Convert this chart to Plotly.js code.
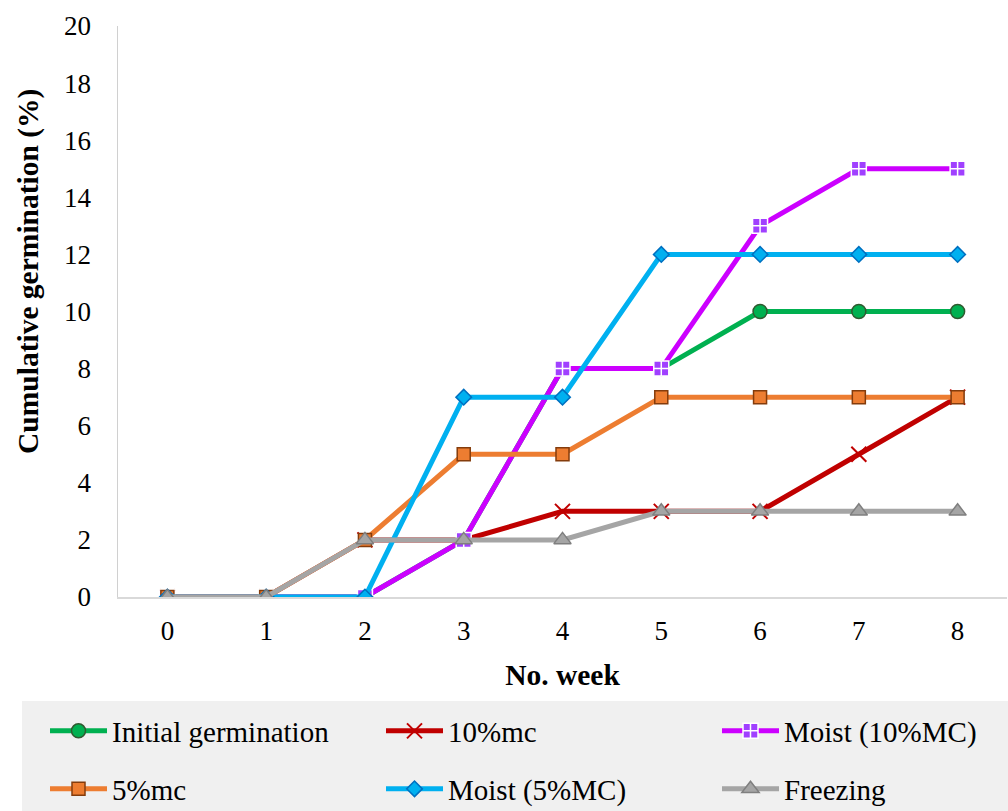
<!DOCTYPE html>
<html>
<head>
<meta charset="utf-8">
<script src="https://cdn.plot.ly/plotly-3.0.1.min.js"></script>
<style>html,body{margin:0;padding:0;background:#fff;}#chart{width:1008px;height:811px;}</style>
</head>
<body>
<div id="chart"></div>
<script>
// Data
const weeks = [0, 1, 2, 3, 4, 5, 6, 7, 8];
const initialGermination = [0, 0, 0, 2, 8, 8, 10, 10, 10];
const mc10 = [0, 0, 2, 2, 3, 3, 3, 5, 7];
const moist10 = [0, 0, 0, 2, 8, 8, 13, 15, 15];
const mc5 = [0, 0, 2, 5, 5, 7, 7, 7, 7];
const moist5 = [0, 0, 0, 7, 7, 12, 12, 12, 12];
const freezing = [0, 0, 2, 2, 2, 3, 3, 3, 3];
const yTicks = [0, 2, 4, 6, 8, 10, 12, 14, 16, 18, 20];
const xTitle = 'No. week';
const yTitle = 'Cumulative germination (%)';

const serif = '"Liberation Serif", "Times New Roman", serif';

function tr(name, y, lineColor, symbol, fill, border, size, legend, bw) {
  return {
    type: 'scatter', mode: 'lines+markers', name: name, x: weeks, y: y,
    legend: legend,
    line: {color: lineColor, width: 5},
    marker: {symbol: symbol, size: size, color: fill, line: {color: border, width: bw}}
  };
}

const data = [
  tr('Initial germination', initialGermination, '#00B050', 'circle', '#00B050', '#2F5A2F', 14, 'legend', 1.5),
  tr('10%mc', mc10, '#C00000', 'x-thin-open', '#C00000', '#C00000', 15, 'legend2', 2),
  tr('Moist (10%MC)', moist10, '#CC00FF', 'square-cross', '#A040FF', '#FFFFFF', 15, 'legend3', 1.5),
  tr('5%mc', mc5, '#ED7D31', 'square', '#ED7D31', '#843C0C', 13, 'legend4', 1.5),
  tr('Moist (5%MC)', moist5, '#00B0F0', 'diamond', '#00B0F0', '#0070C0', 12, 'legend5', 1.5),
  tr('Freezing', freezing, '#A5A5A5', 'triangle-up', '#A5A5A5', '#7F7F7F', 15, 'legend6', 1.5)
];

function leg(xpx, ypx) {
  return {
    orientation: 'v', xref: 'container', yref: 'container',
    x: xpx / 1008, y: 1 - ypx / 811,
    xanchor: 'left', yanchor: 'middle', bgcolor: 'rgba(0,0,0,0)',
    font: {family: serif, size: 29, color: '#000'},
    itemwidth: 57
  };
}

const colX = [45, 381, 717];
const rowY = [731, 789];

const layout = {
  width: 1008, height: 811,
  margin: {l: 118, r: 1, t: 26, b: 214, autoexpand: false},
  paper_bgcolor: '#ffffff', plot_bgcolor: '#ffffff',
  font: {family: serif, size: 27, color: '#000'},
  xaxis: {
    range: [-0.5, 8.5], tickmode: 'array', tickvals: weeks,
    showgrid: false, zeroline: false, showline: true, linecolor: '#D9D9D9', linewidth: 1.5,
    ticks: '', ticklabelstandoff: 9, automargin: true,
    tickfont: {family: serif, size: 27, color: '#000'},
    title: {text: '<b>' + xTitle + '</b>', font: {family: serif, size: 29.5, color: '#000'}, standoff: 19}
  },
  yaxis: {
    range: [0, 20], tickmode: 'array', tickvals: yTicks,
    showgrid: false, zeroline: false, showline: true, linecolor: '#D0D0D0', linewidth: 1.5,
    ticks: '', ticklabelstandoff: 20, automargin: true,
    tickfont: {family: serif, size: 27, color: '#000'}
  },
  annotations: [{
    text: '<b>' + yTitle + '</b>', textangle: -90,
    xref: 'paper', yref: 'paper', x: (28 - 118) / 889, y: (597 - 272) / 571,
    xanchor: 'center', yanchor: 'middle', showarrow: false,
    font: {family: serif, size: 29.5, color: '#000'}
  }],
  showlegend: true,
  legend: leg(colX[0], rowY[0]),
  legend2: leg(colX[1], rowY[0]),
  legend3: leg(colX[2], rowY[0]),
  legend4: leg(colX[0], rowY[1]),
  legend5: leg(colX[1], rowY[1]),
  legend6: leg(colX[2], rowY[1]),
  shapes: [{
    type: 'rect', xref: 'paper', yref: 'paper', layer: 'below',
    x0: (22 - 118) / 889, x1: (1010 - 118) / 889,
    y0: (597 - 701) / 571, y1: (597 - 812) / 571,
    fillcolor: '#F0F0F0', line: {width: 0}
  }]
};

Plotly.newPlot('chart', data, layout, {displayModeBar: false, staticPlot: true});
</script>
</body>
</html>
